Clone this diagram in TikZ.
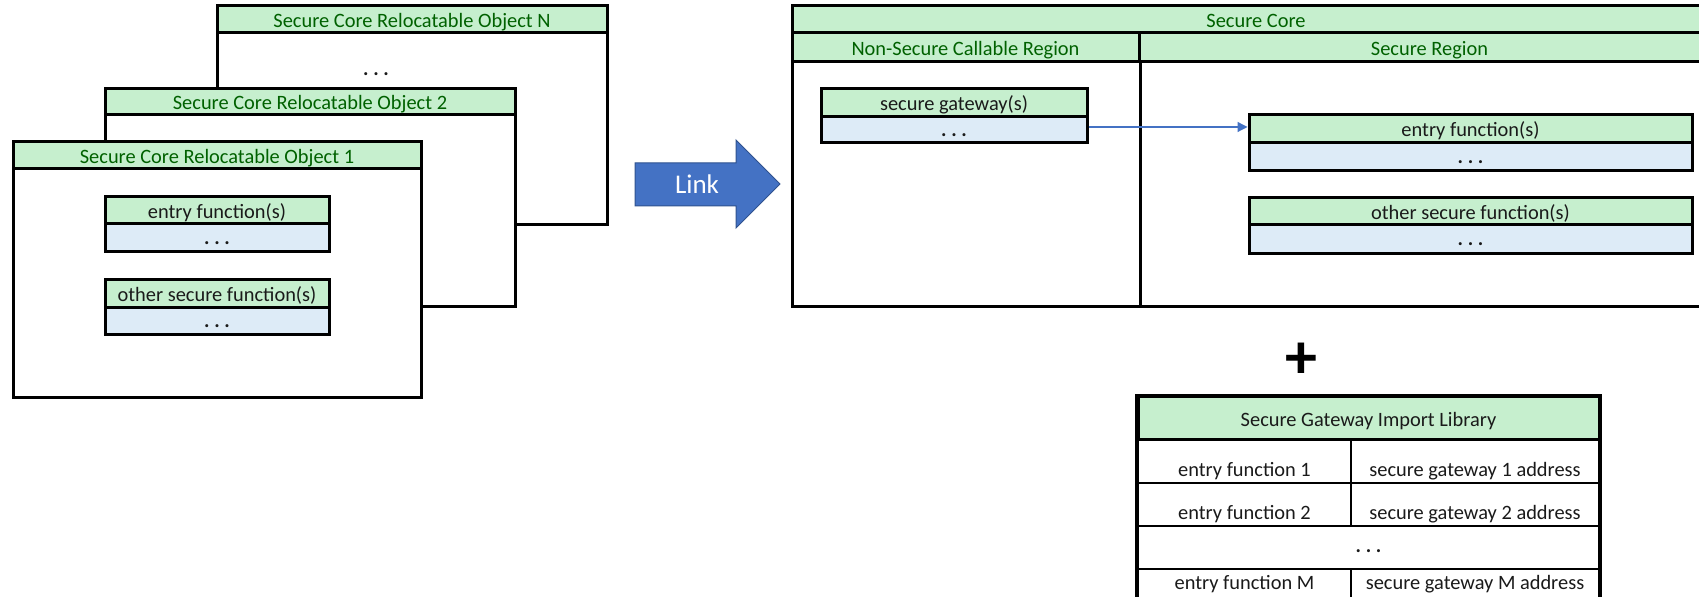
\documentclass[tikz,border=0pt]{standalone}
\usepackage{fontspec}
\setmainfont{Carlito}
\usetikzlibrary{arrows.meta}

\definecolor{hdr}{HTML}{C6EFCE}
\definecolor{hdrtxt}{HTML}{006100}
\definecolor{bodyblue}{HTML}{DDEBF7}
\definecolor{linkblue}{HTML}{4472C4}
\definecolor{linkedge}{HTML}{2F528F}
\definecolor{ink}{HTML}{1A1A1A}

% A rectangle node given by its corners (in pixel units) and a style
\newcommand\cellnode[7]{%
  \pgfmathsetmacro\cw{((#4)-(#2))*0.5}%
  \pgfmathsetmacro\ch{((#5)-(#3))*0.5}%
  \node[#6, minimum width=\cw pt, minimum height=\ch pt]
    (#1) at ({((#2)+(#4))/2},{((#3)+(#5))/2}) {#7};%
}
% spaced ellipsis with heavier dots
\newcommand\dotrow{\textbf{.\ .\ .}}

\tikzset{
  basefont/.style={font=\fontsize{10.2}{12}\selectfont},
  frame/.style={draw=black, line width=1.5pt, fill=white, inner sep=0pt, rectangle},
  band/.style={frame, fill=hdr, text=hdrtxt, basefont, text height=0.8em, text depth=0pt},
  fnhead/.style={frame, fill=hdr, text=ink, basefont, text height=0.8em, text depth=0pt},
  fnbody/.style={frame, fill=bodyblue, text=ink, basefont, text height=0.65em, text depth=0pt},
  cell/.style={draw=black, line width=1.1pt, fill=white, inner sep=0pt, rectangle},
  tbltxt/.style={text=ink, basefont, inner sep=0pt},
  callarrow/.style={draw=linkblue, line width=0.6pt, -{Triangle[length=5pt,width=5pt]}},
}

\begin{document}
\begin{tikzpicture}[x=0.5pt, y=-0.5pt]
\useasboundingbox (0,0) rectangle (1699,597);
\clip (0,0) rectangle (1699,597);

% ---- stack of relocatable objects (back to front) ----
\cellnode{objN}{217}{6}{607}{225}{frame}{}
\cellnode{objNhead}{217}{6}{607}{33}{band}{Secure Core Relocatable Object N}
\node[tbltxt] (objNdots) at (376,74) {\dotrow};

\cellnode{obj2}{105}{89}{515}{307}{frame}{}
\cellnode{obj2head}{105}{89}{515}{115}{band}{Secure Core Relocatable Object 2}

\cellnode{obj1}{13}{142}{421}{398}{frame}{}
\cellnode{obj1head}{13}{142}{421}{169}{band}{Secure Core Relocatable Object 1}
\cellnode{lentryhead}{105}{197}{329}{224}{fnhead}{entry function(s)}
\cellnode{lentrybody}{105}{224}{329}{252}{fnbody}{\dotrow}
\cellnode{lotherhead}{105}{280}{329}{308}{fnhead}{other secure function(s)}
\cellnode{lotherbody}{105}{308}{329}{335}{fnbody}{\dotrow}

% ---- link arrow ----
\draw[fill=linkblue, draw=linkedge, line width=0.5pt]
  (635,163) -- (736,163) -- (736,140) -- (780,184) -- (736,228)
  -- (736,206) -- (635,206) -- cycle;
\node[text=white, font=\fontsize{13.5}{15}\selectfont, inner sep=0pt,
      text height=0.65em, text depth=0pt] (linktxt) at (697,187) {Link};

% ---- linked secure core ----
\cellnode{core}{792}{6}{1720}{307}{frame}{}
\cellnode{corehead}{792}{6}{1720}{33}{band}{Secure Core}
\cellnode{nsc}{792}{33}{1139}{62}{band}{Non-Secure Callable Region}
\cellnode{sreg}{1139}{33}{1720}{62}{band}{Secure Region}
\draw[line width=1.5pt] (nsc.south east) -- (nsc.south east |- core.south);

\cellnode{gwhead}{821}{89}{1087}{117}{fnhead}{secure gateway(s)}
\cellnode{gwbody}{821}{117}{1087}{143}{fnbody}{\dotrow}
\cellnode{rentryhead}{1249}{115}{1692}{143}{fnhead}{entry function(s)}
\cellnode{rentrybody}{1249}{143}{1692}{171}{fnbody}{\dotrow}
\cellnode{rotherhead}{1249}{198}{1692}{225}{fnhead}{other secure function(s)}
\cellnode{rotherbody}{1249}{225}{1692}{254}{fnbody}{\dotrow}

\draw[callarrow] ([yshift=1.5pt]gwbody.east) -- ([yshift=1.5pt]gwbody.east -| rentryhead.west);

% ---- plus ----
\node[text=black, font=\fontsize{32}{32}\selectfont\bfseries, inner sep=0pt] (plus) at (1301,361) {+};

% ---- import library ----
\cellnode{lib}{1138}{397}{1599}{625}{frame}{}
\cellnode{libhead}{1138}{397}{1599}{440}{fnhead}{Secure Gateway Import Library}
\cellnode{r1a}{1138}{440}{1351}{483}{cell}{}
\cellnode{r1b}{1351}{440}{1599}{483}{cell}{}
\cellnode{r2a}{1138}{483}{1351}{526}{cell}{}
\cellnode{r2b}{1351}{483}{1599}{526}{cell}{}
\cellnode{r3}{1138}{526}{1599}{569}{cell}{}
\cellnode{r4a}{1138}{569}{1351}{625}{cell}{}
\cellnode{r4b}{1351}{569}{1599}{625}{cell}{}
\draw[line width=1.5pt] (lib.north west) rectangle (lib.south east);

\node[tbltxt, anchor=base] (t1a) at (r1a.center |- 0,477) {entry function 1};
\node[tbltxt, anchor=base] (t1b) at (r1b.center |- 0,477) {secure gateway 1 address};
\node[tbltxt, anchor=base] (t2a) at (r2a.center |- 0,520) {entry function 2};
\node[tbltxt, anchor=base] (t2b) at (r2b.center |- 0,520) {secure gateway 2 address};
\node[tbltxt, anchor=base] (t3) at (r3.center |- 0,553) {\dotrow};
\node[tbltxt, anchor=base] (t4a) at (r4a.center |- 0,590) {entry function M};
\node[tbltxt, anchor=base] (t4b) at (r4b.center |- 0,590) {secure gateway M address};
\end{tikzpicture}
\end{document}
